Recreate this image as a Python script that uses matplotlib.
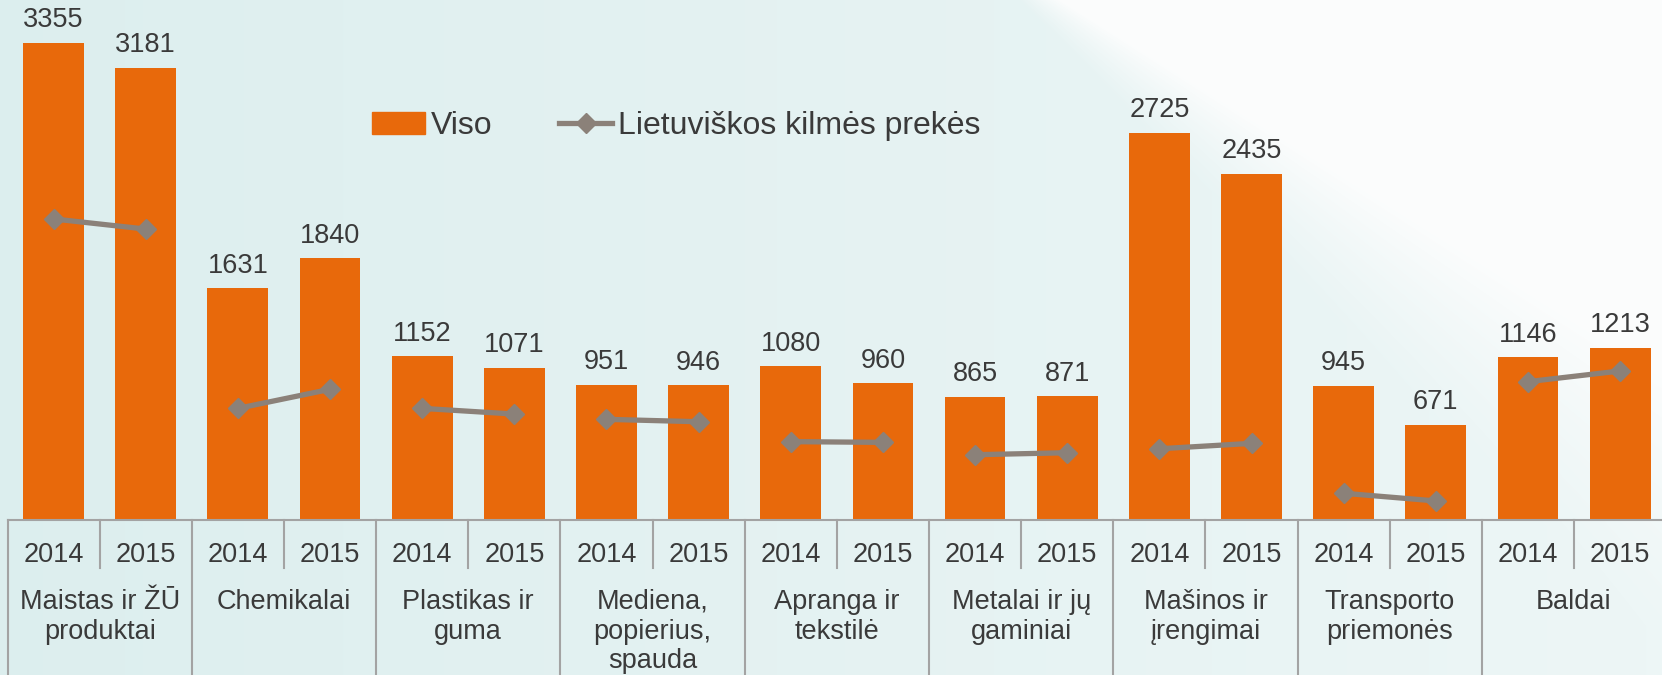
import numpy as np
import matplotlib
matplotlib.use("Agg")
import matplotlib.pyplot as plt
from matplotlib.patches import Patch
from matplotlib.lines import Line2D

# ---------------- data ----------------
categories = ["Maistas ir ŽŪ\nproduktai", "Chemikalai", "Plastikas ir\nguma",
              "Mediena,\npopierius,\nspauda", "Apranga ir\ntekstilė",
              "Metalai ir jų\ngaminiai", "Mašinos ir\nįrengimai",
              "Transporto\npriemonės", "Baldai"]
years = ["2014", "2015"]
viso = [3355, 3181, 1631, 1840, 1152, 1071, 951, 946, 1080, 960,
        865, 871, 2725, 2435, 945, 671, 1146, 1213]
lietuviskos = [2117, 2046, 785, 919, 785, 745, 708, 691, 551, 546,
               459, 473, 501, 539, 188, 134, 973, 1048]
legend_labels = ["Viso", "Lietuviškos kilmės prekės"]

# ---------------- style ----------------
plt.rcParams['font.family'] = ['Liberation Sans', 'DejaVu Sans']
ORANGE = '#E8690B'
GREY = '#8B8179'
TXT = '#3a3a3a'
AXC = '#A3A3A3'

W, H = 1662, 675
fig = plt.figure(figsize=(W / 100, H / 100), dpi=100)

# background gradient
bg_ax = fig.add_axes([0, 0, 1, 1], zorder=-10)
X, Y = np.meshgrid(np.arange(W), np.arange(H))
c_left = np.array([0.865, 0.935, 0.935])
c_right = np.array([0.93, 0.965, 0.965])
t = (X / W)[..., None]
img = c_left * (1 - t) + c_right * t
d = X - Y * 1.0 - 1020
w = np.clip(d / (40 + 0.6 * Y), 0, 1)[..., None]
white = np.array([0.985, 0.99, 0.99])
img = img * (1 - w) + white * w
bg_ax.imshow(img, aspect='auto', extent=[0, 1, 0, 1], origin='upper')
bg_ax.axis('off')

# main axes
left_px, right_px, base_px = 7.5, 1666.2, 520
ax = fig.add_axes([left_px / W, (H - base_px) / H, (right_px - left_px) / W, base_px / H])
ax.patch.set_alpha(0)
for s in ax.spines.values():
    s.set_visible(False)
ax.set_xticks([])
ax.set_yticks([])
n = len(viso)
x = np.arange(n)
ax.set_xlim(-0.5, n - 0.5)
ax.set_ylim(0, 520 / 0.1422)

ax.bar(x, viso, width=0.66, color=ORANGE, zorder=2)
for g in range(len(categories)):
    ax.plot(x[2 * g:2 * g + 2], lietuviskos[2 * g:2 * g + 2], color=GREY, lw=3.8,
            marker='D', ms=10.5, zorder=3, solid_capstyle='butt')

for xi, v in zip(x, viso):
    ax.annotate(str(v), (xi, v), xytext=(0, 15.5), textcoords='offset pixels',
                ha='center', va='baseline', fontsize=19.5, color=TXT)

# category axis
tr = ax.get_xaxis_transform()
def fy(px):
    return -(px - base_px) / base_px

ax.plot([-0.5, n - 0.5], [0, 0], transform=tr, color=AXC, lw=1.5, clip_on=False, zorder=4)
for g in range(len(categories) + 1):
    ax.plot([2 * g - 0.5] * 2, [0, fy(680)], transform=tr, color=AXC, lw=1.5, clip_on=False)
for g in range(len(categories)):
    ax.plot([2 * g + 0.5] * 2, [0, fy(568)], transform=tr, color=AXC, lw=1.5, clip_on=False)
    for k in range(2):
        ax.text(2 * g + k, fy(561.7), years[k], transform=tr, ha='center', va='baseline',
                fontsize=19.5, color=TXT)
    for li, line in enumerate(categories[g].split("\n")):
        ax.text(2 * g + 0.5, fy(609 + 29.7 * li), line, transform=tr, ha='center',
                va='baseline', fontsize=19.5, color=TXT)

handles = [Patch(color=ORANGE),
           Line2D([], [], color=GREY, lw=3.8, marker='D', ms=10.5)]
leg = fig.legend(handles, legend_labels, loc='center left',
                 bbox_to_anchor=(372 / W, 1 - 126 / H), ncol=2, frameon=False,
                 fontsize=23, handlelength=1.66, handletextpad=0.17,
                 columnspacing=2.1, borderpad=0, borderaxespad=0)
for t_ in leg.get_texts():
    t_.set_color(TXT)

fig.savefig("out.png", dpi=100)
